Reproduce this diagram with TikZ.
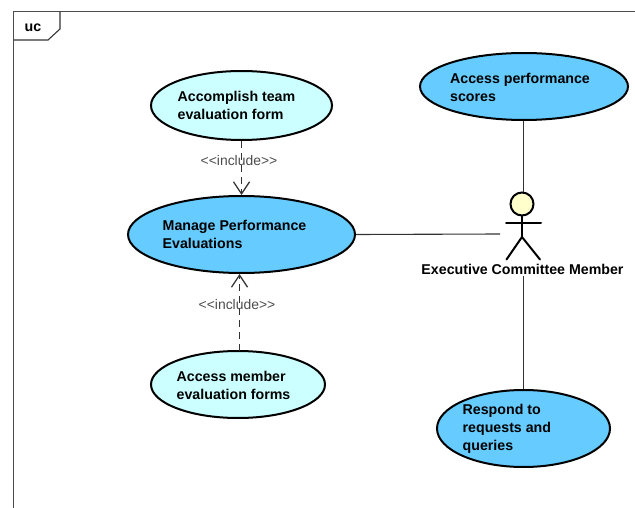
\documentclass[tikz,border=0pt]{standalone}
\usepackage{fontspec}
\setmainfont{Liberation Sans}
\usepackage{xcolor}
\usetikzlibrary{shapes,arrows.meta}
\definecolor{ucblue}{HTML}{66CCFF}
\definecolor{uccyan}{HTML}{CCFFFF}
\definecolor{ucyellow}{HTML}{FFFFCC}

\begin{document}
\begin{tikzpicture}[
	x=1pt, y=-1pt,
	usecase/.style={ellipse, draw, line width=2, inner sep=0, fill=#1},
	casetext/.style={font=\fontsize{14.2}{18}\selectfont\bfseries, anchor=west, align=left, inner sep=0},
	stereo/.style={font=\fontsize{13.9}{15}\selectfont, text=black!70, inner sep=0},
	assoc/.style={draw=black!80, line width=1.1},
	incl/.style={draw=black!80, line width=1.2, dash pattern=on 7 off 5, -{Straight Barb[length=12,width=16,line width=1.3]}},
	limb/.style={line width=2, line cap=round}
]
\useasboundingbox (0,0) rectangle (635,508);

% frame
\draw[black!70, line width=1.1] (635,11.5) -- (13.5,11.5) -- (13.5,508);
\draw[black!80, line width=1.1] (60,11.5) -- (60,29) -- (48,40) -- (13.5,40);
\node[font=\fontsize{14.2}{18}\selectfont\bfseries, inner sep=0] (frame) at (33,27.5) {uc};

% use cases
\node[usecase=uccyan, minimum width=181, minimum height=69] (accomplish) at (241.5,105.5) {};
\node[usecase=ucblue, minimum width=208, minimum height=67] (scores) at (524,86.5) {};
\node[usecase=ucblue, minimum width=227, minimum height=77] (manage) at (241.5,234.5) {};
\node[usecase=uccyan, minimum width=174, minimum height=67] (member) at (238,384.5) {};
\node[usecase=ucblue, minimum width=173, minimum height=77] (respond) at (523.5,428.5) {};

\node[casetext] at (177.5,105.5) {Accomplish team\\evaluation form};
\node[casetext] at (450,87) {Access performance\\scores};
\node[casetext] at (162.5,234.5) {Manage Performance\\Evaluations};
\node[casetext] at (176.5,385) {Access member\\evaluation forms};
\node[casetext] at (462.5,429) {Respond to\\requests and\\queries};

% actor
\node[circle, draw, line width=2, fill=ucyellow, minimum size=23, inner sep=0] (head) at (522,204) {};
\coordinate (hip) at (522,237);
\coordinate (leftfoot) at (506.5,259.5);
\coordinate (rightfoot) at (540,259.5);
\coordinate (leftarm) at (506,222.5);
\coordinate (rightarm) at (541,222.5);
\coordinate (actorside) at (500,234);
\coordinate (actortop) at (523.5,192);
\draw[assoc] (scores.south -| actortop) -- (actortop);
\draw[limb] (head) -- (hip);
\draw[limb] (leftarm) -- (rightarm);
\draw[limb] (leftfoot) -- (hip) -- (rightfoot);
\node[font=\fontsize{14.2}{18}\selectfont\bfseries, inner sep=0] (actor) at (522.5,269.5) {Executive Committee Member};

% connectors
\draw[assoc] (manage.east) -- (actorside);
\draw[assoc] ([yshift=-1]actor.south -| respond) -- (respond.north);

\coordinate (membertop) at (239.5,351);
\draw[incl] (accomplish.south) -- (manage.north);
\draw[incl] (membertop) -- (manage.south -| membertop);
\node[stereo] (inc1) at (239,160.5) {{<}{<}include{>}{>}};
\node[stereo] (inc2) at (237,304.5) {{<}{<}include{>}{>}};
\end{tikzpicture}
\end{document}
